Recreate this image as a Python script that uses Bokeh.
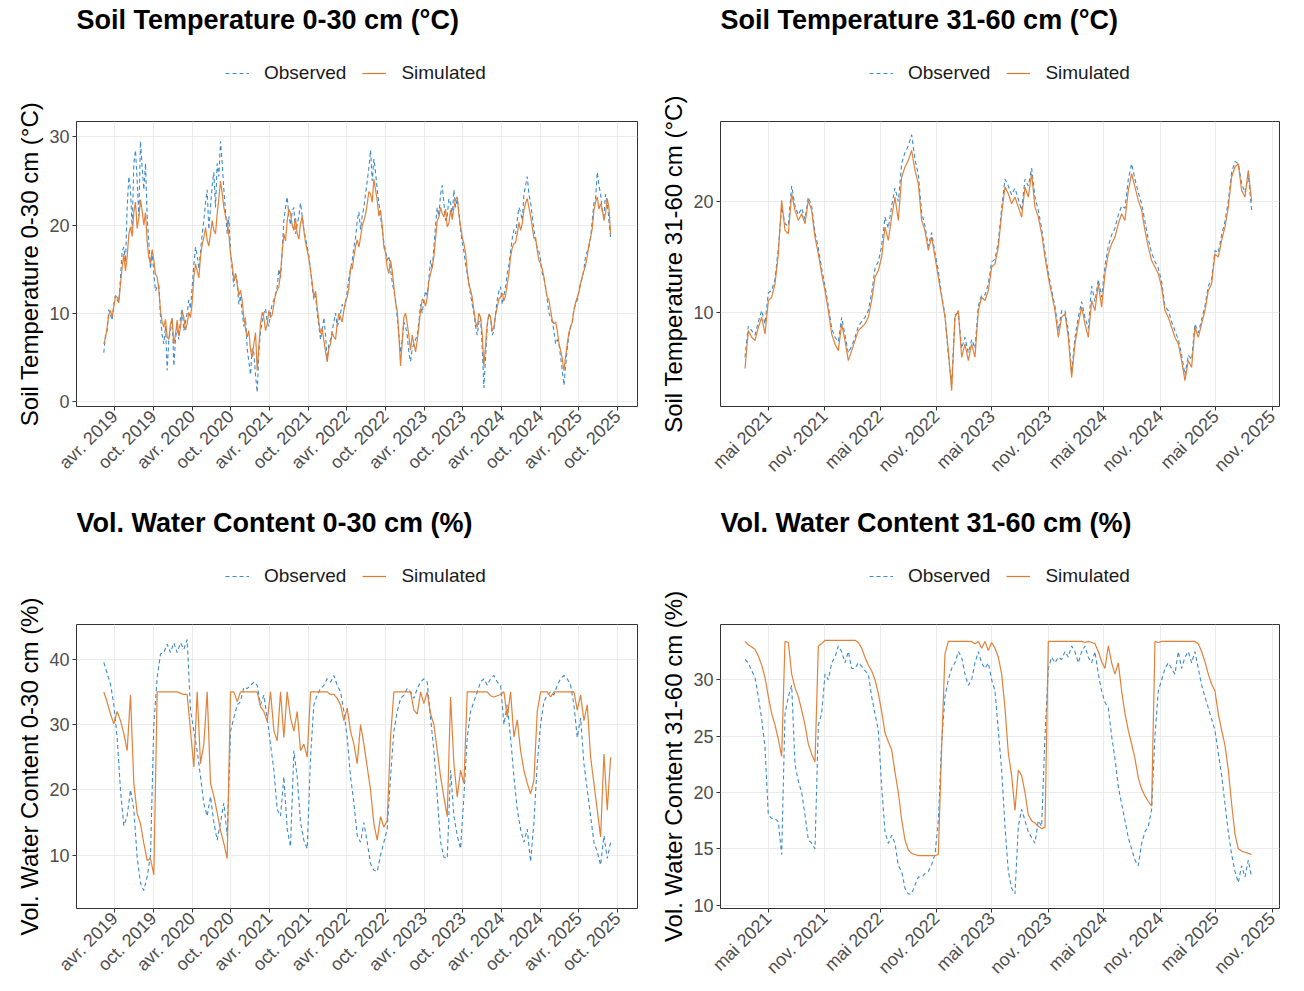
import math
import numpy as np
import pandas as pd
from bokeh.plotting import figure
from bokeh.layouts import column, row
from bokeh.models import Legend, LegendItem, FixedTicker, Range1d, Label
from bokeh.embed import file_html
from bokeh.resources import INLINE

# ---------------- data ----------------
start_030, end_030 = "2019-02-09", "2025-08-29"
start_3160, end_3160 = "2021-02-14", "2025-08-26"

# 0-30 cm temperature, about one reading every 8 days
temp030_obs = [5.5, 7.5, 8.0, 10.4, 9.8, 9.2, 11.0, 12.0, 11.5, 11.2,
               14.0, 17.0, 17.5, 15.8, 22.0, 25.5, 24.0, 19.5, 27.0, 28.5,
               25.0, 21.0, 29.5, 26.5, 24.0, 27.0, 21.0, 18.0, 15.0, 17.0,
               14.5, 12.5, 13.0, 13.2, 9.5, 7.5, 6.5, 8.5, 3.5, 7.0,
               8.0, 9.5, 4.0, 7.0, 8.5, 7.0, 9.5, 10.5, 8.0, 9.0,
               10.0, 11.5, 10.5, 13.0, 15.5, 17.5, 16.5, 15.0, 17.0, 19.0,
               20.5, 22.5, 24.0, 19.5, 22.0, 24.5, 26.0, 22.0, 27.0, 25.5,
               29.5, 27.0, 24.0, 21.5, 19.0, 21.0, 17.0, 15.0, 13.0, 14.5,
               13.5, 11.0, 12.0, 10.0, 8.5, 9.5, 6.0, 4.5, 3.0, 6.0,
               5.5, 3.0, 1.0, 5.5, 8.0, 9.0, 10.0, 10.5, 9.0, 8.5,
               10.0, 11.0, 11.5, 12.0, 13.0, 15.0, 14.0, 17.0, 20.5, 22.0,
               23.2, 21.0, 20.0, 21.5, 22.0, 19.0, 20.0, 21.0, 22.5, 21.0,
               19.5, 18.5, 17.5, 16.5, 15.0, 13.0, 11.5, 12.0, 10.0, 8.5,
               7.0, 8.0, 9.5, 7.5, 4.5, 6.5, 7.0, 8.0, 9.0, 10.0,
               8.5, 9.0, 10.0, 11.0, 10.5, 11.0, 12.5, 14.0, 15.0, 16.0,
               17.5, 18.5, 20.5, 21.5, 19.5, 21.0, 22.0, 23.5, 25.0, 26.5,
               28.5, 25.0, 27.5, 26.0, 24.0, 22.5, 21.0, 19.5, 18.0, 17.0,
               16.0, 16.5, 15.0, 13.5, 12.5, 11.5, 9.5, 7.5, 5.5, 7.0,
               9.0, 8.5, 7.5, 5.5, 4.5, 6.0, 6.5, 7.0, 7.5, 9.0,
               11.0, 10.0, 11.5, 12.5, 12.0, 14.0, 16.0, 15.0, 17.5, 20.0,
               22.0, 21.0, 23.5, 24.5, 22.5, 20.5, 21.0, 23.0, 22.5, 21.0,
               24.0, 22.0, 23.0, 21.5, 19.5, 18.0, 17.0, 15.5, 14.5, 13.5,
               12.0, 11.0, 10.0, 8.5, 7.5, 9.0, 9.5, 6.0, 1.5, 5.0,
               8.5, 10.0, 9.5, 7.5, 8.0, 10.0, 11.5, 12.5, 13.0, 11.0,
               12.0, 13.0, 14.5, 15.5, 17.0, 18.5, 19.5, 19.0, 20.5, 22.0,
               21.5, 20.5, 23.5, 24.5, 25.5, 23.5, 22.5, 21.0, 19.5, 18.0,
               17.5, 17.0, 16.0, 14.5, 14.0, 13.0, 11.5, 10.0, 9.5, 9.0,
               8.0, 6.5, 7.0, 6.5, 5.0, 3.5, 1.8, 4.0, 6.0, 7.5,
               8.5, 9.0, 10.5, 11.0, 11.5, 12.5, 13.5, 14.0, 15.0, 16.5,
               17.0, 17.5, 18.5, 20.5, 22.5, 23.0, 26.0, 24.5, 23.5, 21.5,
               21.0, 23.5, 22.5, 20.5, 18.5]
temp030_sim = [6.5, 7.2, 8.4, 9.8, 10.3, 9.6, 10.7, 11.9, 11.8, 11.2,
               13.3, 15.2, 16.7, 14.8, 16.4, 18.9, 19.8, 18.7, 21.5, 22.6,
               19.6, 20.8, 22.9, 21.6, 20.0, 21.4, 18.2, 16.3, 15.6, 17.2,
               16.0, 14.4, 14.1, 12.7, 10.3, 9.0, 8.4, 9.3, 7.3, 7.0,
               8.8, 9.4, 6.5, 7.6, 9.2, 7.4, 8.4, 10.2, 9.5, 8.1,
               8.8, 10.1, 9.5, 11.2, 14.1, 15.6, 14.8, 14.0, 16.4, 17.8,
               18.6, 19.7, 18.3, 17.6, 19.0, 20.5, 19.4, 19.0, 21.3, 23.0,
               25.0, 23.6, 22.0, 21.0, 20.5, 18.9, 16.7, 15.6, 13.7, 14.5,
               13.3, 12.0, 12.6, 11.4, 9.5, 8.2, 7.3, 8.0, 5.8, 5.0,
               6.5, 7.8, 3.5, 6.2, 8.8, 10.1, 9.5, 8.0, 8.8, 10.3,
               9.5, 9.8, 11.0, 12.2, 12.6, 13.0, 14.5, 17.0, 19.0, 18.2,
               20.5, 21.8, 21.3, 20.0, 19.4, 20.8, 19.0, 18.4, 20.2, 21.0,
               19.4, 18.0, 17.1, 16.2, 14.8, 13.5, 11.8, 12.5, 10.7, 9.0,
               7.7, 8.3, 6.9, 5.6, 4.5, 6.0, 6.5, 7.8, 7.3, 7.0,
               8.8, 10.0, 9.5, 9.0, 10.3, 11.4, 11.8, 12.9, 15.2, 15.0,
               16.4, 17.6, 18.3, 17.5, 18.6, 19.9, 20.5, 21.2, 22.4, 23.8,
               23.5, 22.6, 25.2, 24.0, 22.8, 21.0, 21.7, 19.9, 17.5, 16.8,
               15.2, 14.5, 16.0, 14.8, 13.0, 11.2, 10.3, 7.5, 4.0, 6.8,
               9.5, 10.0, 8.8, 7.4, 5.8, 7.5, 6.5, 5.6, 6.9, 8.5,
               10.3, 11.6, 11.4, 10.8, 11.8, 13.6, 14.5, 15.2, 16.4, 18.5,
               20.5, 20.9, 22.0, 21.3, 20.9, 21.8, 19.8, 20.2, 21.7, 20.6,
               22.0, 22.9, 23.2, 21.2, 19.8, 18.6, 17.9, 16.8, 14.8, 13.2,
               12.6, 11.8, 10.3, 9.0, 8.4, 10.0, 9.5, 7.6, 4.0, 6.4,
               8.8, 9.9, 9.5, 8.0, 8.4, 9.8, 10.7, 11.6, 11.8, 12.3,
               11.4, 12.0, 13.3, 14.5, 16.4, 17.4, 17.9, 18.0, 19.0, 20.3,
               19.4, 20.2, 21.7, 22.5, 23.0, 22.0, 21.0, 19.8, 18.5, 18.6,
               17.1, 16.0, 15.6, 15.0, 14.1, 12.8, 11.8, 11.5, 10.3, 9.2,
               8.8, 9.0, 8.0, 6.6, 5.8, 4.8, 3.5, 5.0, 6.5, 7.8,
               8.4, 9.0, 10.3, 11.2, 11.8, 12.4, 13.3, 14.2, 14.8, 15.4,
               16.4, 17.8, 18.6, 19.6, 21.7, 22.6, 23.2, 21.8, 22.4, 21.8,
               20.5, 21.4, 23.0, 22.0, 19.0]

temp3160_obs = [6.0, 8.8, 8.4, 8.0, 9.2, 10.2, 9.0, 11.8, 12.0, 13.0,
                15.8, 19.5, 18.0, 17.8, 21.4, 19.6, 18.8, 19.4, 18.4, 20.4,
                19.6, 17.2, 15.8, 14.0, 12.4, 10.6, 8.6, 7.8, 7.4, 9.6,
                8.0, 6.4, 7.0, 7.8, 8.8, 9.2, 9.6, 10.2, 11.8, 14.0,
                14.6, 16.0, 18.6, 17.6, 19.6, 21.2, 20.0, 23.4, 24.4, 25.0,
                26.0, 23.8, 22.4, 19.0, 17.8, 16.0, 17.2, 15.4, 13.8, 11.6,
                9.8, 6.2, 3.6, 9.8, 10.0, 6.8, 7.8, 6.4, 7.6, 6.8,
                10.6, 11.6, 11.6, 12.6, 14.6, 14.8, 16.4, 19.4, 22.0, 21.4,
                20.6, 21.2, 20.2, 19.2, 22.0, 21.4, 23.0, 20.4, 19.2, 17.6,
                15.4, 13.6, 12.0, 10.6, 8.4, 10.2, 10.2, 8.4, 4.6, 7.8,
                9.6, 11.0, 9.6, 8.6, 12.4, 11.0, 13.0, 11.4, 14.2, 16.0,
                17.0, 17.6, 18.8, 19.6, 19.4, 22.0, 23.4, 22.0, 20.8, 19.8,
                18.2, 16.6, 15.4, 14.6, 14.0, 12.8, 10.6, 10.2, 9.2, 8.4,
                7.6, 6.2, 4.4, 6.2, 5.8, 9.0, 8.2, 9.4, 10.6, 12.4,
                13.0, 15.6, 15.4, 17.0, 18.2, 20.0, 22.6, 23.6, 23.4, 21.6,
                20.8, 22.4, 19.2]
temp3160_sim = [5.0, 8.4, 7.8, 7.5, 8.7, 9.6, 8.1, 11.1, 11.4, 12.6,
                15.3, 20.1, 17.4, 17.1, 20.7, 19.2, 18.3, 18.9, 18.0, 20.1,
                19.2, 16.8, 15.3, 13.5, 12.0, 10.2, 8.1, 7.2, 6.6, 9.0,
                7.5, 5.7, 6.6, 7.5, 8.4, 8.7, 9.0, 9.6, 11.1, 13.2,
                13.8, 15.0, 17.7, 16.5, 18.6, 20.4, 18.3, 22.2, 23.1, 23.7,
                24.6, 22.8, 21.6, 18.3, 17.4, 15.6, 16.8, 15.0, 13.2, 11.4,
                9.6, 6.6, 3.0, 9.6, 10.2, 6.0, 7.2, 5.7, 7.2, 6.0,
                10.2, 11.4, 11.1, 12.0, 14.1, 14.4, 15.9, 18.9, 21.3, 20.7,
                19.8, 20.4, 19.5, 18.6, 21.3, 20.4, 22.5, 19.5, 18.6, 17.1,
                15.0, 13.2, 11.7, 10.2, 7.8, 9.6, 9.9, 7.8, 4.2, 7.2,
                9.0, 10.5, 9.0, 7.8, 11.1, 10.2, 12.6, 10.5, 13.5, 15.3,
                16.2, 16.8, 18.0, 18.9, 18.3, 21.0, 22.5, 21.3, 20.1, 19.2,
                17.4, 15.9, 14.7, 14.1, 13.5, 12.3, 10.2, 9.6, 8.7, 7.8,
                7.2, 5.7, 3.9, 5.7, 5.1, 8.7, 7.8, 9.0, 10.2, 12.0,
                12.6, 15.3, 15.0, 16.5, 17.7, 19.5, 22.2, 23.1, 23.4, 21.0,
                20.4, 22.8, 20.0]

vwc030_obs = [39.5, 37.8, 36.2, 33.0, 28.0, 20.0, 14.5, 16.0, 20.0, 17.0,
              9.7, 5.7, 4.6, 6.7, 10.0, 30.0, 37.2, 40.8, 41.0, 42.3,
              41.0, 42.5, 41.0, 42.5, 41.5, 43.0, 32.2, 29.0, 26.0, 22.0,
              17.9, 16.0, 19.0, 15.0, 12.3, 15.0, 18.0, 13.0, 29.0, 31.0,
              33.0, 33.5, 35.7, 35.5, 36.0, 36.5, 36.0, 33.0, 34.5, 31.0,
              27.0, 23.0, 17.0, 16.0, 22.0, 14.0, 11.3, 26.0, 22.0, 15.0,
              12.3, 11.0, 25.0, 33.0, 34.5, 35.5, 36.0, 37.0, 36.5, 37.5,
              36.0, 35.0, 32.0, 28.0, 22.0, 18.0, 13.0, 12.0, 15.0, 12.0,
              8.7, 7.7, 7.5, 10.0, 12.0, 14.0, 22.0, 29.0, 32.0, 34.0,
              34.5, 35.5, 35.0, 34.0, 35.5, 36.5, 37.0, 36.5, 31.0, 26.0,
              19.0, 12.0, 9.7, 9.5, 23.0, 16.0, 13.0, 11.0, 19.0, 28.0,
              32.0, 33.5, 35.0, 36.5, 37.0, 36.0, 37.0, 37.5, 36.5, 36.0,
              30.0, 33.0, 28.0, 22.0, 17.0, 14.0, 12.0, 14.0, 9.0, 15.0,
              24.0, 30.0, 33.5, 34.5, 35.0, 34.5, 36.0, 37.0, 37.5, 37.0,
              36.0, 33.0, 28.0, 31.0, 24.0, 20.0, 16.0, 12.0, 10.5, 8.5,
              13.0, 9.5, 12.0]
vwc030_sim = [35.0, 33.4, 31.6, 30.1, 32.0, 30.6, 28.6, 26.0, 34.5, 21.0,
              16.4, 14.8, 11.8, 9.2, 9.5, 7.0, 35.0, 35.0, 35.0, 35.0,
              35.0, 35.0, 35.0, 34.8, 34.6, 34.6, 29.0, 23.5, 35.0, 24.0,
              27.0, 35.0, 21.0, 19.0, 16.5, 13.8, 11.8, 9.5, 35.0, 35.0,
              33.5, 35.0, 35.0, 35.0, 35.0, 35.0, 35.0, 32.7, 32.0, 30.5,
              35.0, 29.1, 27.5, 35.0, 28.0, 35.0, 31.0, 29.0, 32.0, 26.0,
              27.0, 25.0, 35.0, 35.0, 35.0, 35.0, 35.0, 35.0, 34.6, 34.6,
              34.0, 33.0, 30.6, 32.5, 29.0, 27.0, 24.0, 30.0, 27.0, 23.5,
              20.0, 14.8, 12.3, 15.9, 14.3, 15.3, 28.1, 35.0, 35.0, 35.0,
              35.0, 35.0, 35.0, 32.2, 31.6, 35.0, 33.2, 35.0, 31.6, 30.0,
              26.0, 22.0, 18.9, 15.9, 34.2, 24.0, 18.9, 23.0, 21.0, 35.0,
              35.0, 35.0, 35.0, 35.0, 35.0, 35.0, 34.4, 34.2, 34.4, 34.6,
              35.0, 31.1, 35.0, 28.1, 30.7, 26.0, 23.0, 21.0, 19.4, 21.5,
              32.0, 35.0, 35.0, 35.0, 34.2, 35.0, 35.0, 35.0, 35.0, 35.0,
              35.0, 35.0, 32.2, 34.5, 30.6, 33.0, 25.0, 21.0, 16.9, 12.8,
              25.5, 16.9, 25.0]

vwc3160_obs = [31.8, 31.5, 30.8, 30.2, 28.5, 26.5, 24.0, 18.0, 17.7, 17.7,
               17.4, 14.5, 27.0, 28.5, 29.5, 22.5, 21.0, 20.0, 18.0, 15.8,
               15.5, 15.0, 26.0, 27.0, 30.5, 30.0, 31.5, 32.0, 33.0, 32.5,
               31.5, 32.5, 31.0, 31.0, 31.5, 31.2, 30.8, 30.5, 28.5, 27.0,
               25.5, 20.5, 16.5, 15.5, 16.2, 15.5, 13.5, 13.0, 11.5, 11.0,
               11.0, 11.8, 12.5, 12.5, 12.8, 13.0, 13.6, 14.5, 17.5, 24.5,
               28.5, 30.0, 31.0, 31.5, 32.5, 32.0, 30.5, 29.5, 30.0, 31.5,
               32.5, 31.5, 31.0, 31.5, 30.0, 29.0, 25.5, 22.0, 17.0, 13.0,
               11.5, 11.0, 17.0, 18.5, 17.5, 16.5, 16.0, 15.5, 17.5, 17.0,
               25.0, 31.0, 32.0, 31.5, 32.0, 31.8, 32.5, 32.0, 33.0, 32.5,
               31.5, 32.5, 33.0, 32.0, 31.5, 32.5, 30.5, 29.0, 28.0, 27.5,
               25.0, 23.0, 20.5, 19.0, 17.5, 16.0, 15.0, 14.0, 13.5, 15.5,
               16.5, 17.0, 18.5, 25.0, 29.0, 30.0, 31.0, 31.5, 31.0, 30.5,
               32.5, 31.0, 32.0, 32.5, 31.5, 32.5, 31.0, 29.5, 28.5, 27.5,
               26.5, 25.5, 23.5, 21.5, 19.0, 16.5, 14.5, 13.0, 12.0, 13.5,
               12.5, 14.0, 12.5]
vwc3160_sim = [33.4, 33.1, 32.9, 32.7, 32.1, 31.3, 30.2, 28.5, 27.0, 26.0,
               24.7, 23.2, 33.4, 33.3, 30.5, 29.3, 28.5, 27.3, 26.0, 24.3,
               23.4, 22.7, 33.0, 33.2, 33.5, 33.5, 33.5, 33.5, 33.5, 33.5,
               33.5, 33.5, 33.5, 33.5, 33.3, 32.8, 32.0, 31.3, 30.8, 30.0,
               28.8, 27.2, 25.3, 24.5, 23.8, 21.8, 20.0, 17.6, 15.8, 14.9,
               14.6, 14.5, 14.4, 14.4, 14.4, 14.4, 14.4, 14.4, 14.5, 24.0,
               32.3, 33.4, 33.4, 33.4, 33.4, 33.4, 33.4, 33.4, 33.4, 33.2,
               33.4, 32.8, 33.4, 32.6, 33.3, 32.8, 32.0, 30.5, 27.5, 23.5,
               21.5, 18.4, 22.0, 21.5, 20.0, 18.0, 17.5, 17.3, 17.0, 16.8,
               16.9, 33.4, 33.4, 33.4, 33.4, 33.4, 33.4, 33.4, 33.4, 33.4,
               33.4, 33.4, 33.3, 33.4, 33.3, 33.2, 32.5, 31.6, 31.0, 33.0,
               31.5, 30.5, 31.5, 29.0, 27.0, 25.5, 24.3, 23.0, 21.3, 20.3,
               19.7, 19.2, 18.8, 33.4, 33.3, 33.4, 33.4, 33.4, 33.4, 33.4,
               33.4, 33.4, 33.4, 33.4, 33.4, 33.4, 33.2, 32.5, 31.6, 30.5,
               29.6, 29.0, 27.0, 25.5, 24.2, 22.0, 19.0, 16.3, 15.0, 14.8,
               14.7, 14.6, 14.5]

left_tick_dates = ["2019-04-01", "2019-10-01", "2020-04-01", "2020-10-01", "2021-04-01",
                   "2021-10-01", "2022-04-01", "2022-10-01", "2023-04-01", "2023-10-01",
                   "2024-04-01", "2024-10-01", "2025-04-01", "2025-10-01"]
left_tick_labels = ["avr. 2019", "oct. 2019", "avr. 2020", "oct. 2020", "avr. 2021",
                    "oct. 2021", "avr. 2022", "oct. 2022", "avr. 2023", "oct. 2023",
                    "avr. 2024", "oct. 2024", "avr. 2025", "oct. 2025"]
right_tick_dates = ["2021-05-01", "2021-11-01", "2022-05-01", "2022-11-01", "2023-05-01",
                    "2023-11-01", "2024-05-01", "2024-11-01", "2025-05-01", "2025-11-01"]
right_tick_labels = ["mai 2021", "nov. 2021", "mai 2022", "nov. 2022", "mai 2023",
                     "nov. 2023", "mai 2024", "nov. 2024", "mai 2025", "nov. 2025"]

BLUE = "#3A8BCF"
ORANGE = "#E07A2E"
FONT = "Liberation Sans"
TOP_HEADER_H = 90
BOTTOM_HEADER_H = 84


def ms(d):
    return pd.Timestamp(d).value / 1e6


def xs(start, end, n):
    return pd.date_range(start, end, periods=n).asi8 / 1e6


def header(title, width, hh, mb_left, mb_right):
    h = figure(width=width, height=hh, output_backend="svg", toolbar_location=None,
               x_range=Range1d(0, 1), y_range=Range1d(0, 1),
               x_axis_location=None, y_axis_location=None,
               min_border_left=mb_left, min_border_right=mb_right,
               min_border_top=0, min_border_bottom=0)
    h.grid.visible = False
    h.outline_line_color = None
    h.background_fill_color = "white"
    h.border_fill_color = "white"
    h.add_layout(Label(x=0, y=hh - 19, x_units="screen", y_units="screen",
                       text=title, text_font=FONT, text_font_style="bold",
                       text_font_size="27px", text_color="black",
                       text_baseline="alphabetic", text_align="left"))
    # legend proxies (no visible data)
    d_obs = h.line([0, 1], [np.nan, np.nan], line_color=BLUE, line_width=1.1, line_dash="4 3")
    d_sim = h.line([0, 1], [np.nan, np.nan], line_color=ORANGE, line_width=1.2)
    legend = Legend(items=[LegendItem(label="Observed", renderers=[d_obs]),
                           LegendItem(label="Simulated", renderers=[d_sim])],
                    orientation="horizontal",
                    location=(149, hh - 84),
                    padding=0, margin=0, spacing=16, label_standoff=15,
                    glyph_width=24, glyph_height=22, label_height=22,
                    border_line_color=None, background_fill_alpha=0)
    legend.label_text_font = FONT
    legend.label_text_font_size = "19px"
    legend.label_text_color = "#1A1A1A"
    h.add_layout(legend, "center")
    return h


def panel(ylabel, x, obs, sim, xr, yr, yticks, tdates, tlabels,
          width, height, hh, mb_left, mb_right, mb_bottom):
    p = figure(width=width, height=height, output_backend="svg", toolbar_location=None,
               x_range=Range1d(ms(xr[0]), ms(xr[1])), y_range=Range1d(*yr),
               min_border_left=mb_left, min_border_right=mb_right,
               min_border_top=121 - hh, min_border_bottom=mb_bottom)

    p.line(x, obs, line_color=BLUE, line_width=1.1, line_dash="4 3")
    p.line(x, sim, line_color=ORANGE, line_width=1.2, line_alpha=0.95)

    tvals = [ms(d) for d in tdates]
    p.xaxis.ticker = FixedTicker(ticks=tvals)
    p.xaxis.major_label_overrides = {v: l for v, l in zip(tvals, tlabels)}
    p.xaxis.major_label_orientation = math.pi / 4
    p.yaxis.ticker = FixedTicker(ticks=yticks)
    p.yaxis.axis_label = ylabel

    for ax in (p.xaxis[0], p.yaxis[0]):
        ax.axis_line_color = None
        ax.major_tick_line_color = "#333333"
        ax.major_tick_out = 4
        ax.major_tick_in = 0
        ax.minor_tick_line_color = None
        ax.major_label_text_font = FONT
        ax.major_label_text_font_size = "18px"
        ax.major_label_text_color = "#4D4D4D"
        ax.major_label_standoff = 3
        ax.axis_label_text_font = FONT
        ax.axis_label_text_font_size = "24px"
        ax.axis_label_text_font_style = "normal"
        ax.axis_label_text_color = "black"
        ax.axis_label_standoff = 3

    p.grid.grid_line_color = "#EBEBEB"
    p.grid.grid_line_width = 1
    p.outline_line_color = "#333333"
    p.outline_line_width = 1
    p.background_fill_color = "white"
    p.border_fill_color = "white"
    return p


x_left_t = xs(start_030, end_030, len(temp030_obs))
x_left = xs(start_030, end_030, len(vwc030_obs))
x_right = xs(start_3160, end_3160, len(temp3160_obs))
xr_left = ("2018-10-03", "2026-01-03")
xr_right = ("2020-11-26", "2025-11-25")

TH, BH = TOP_HEADER_H, BOTTOM_HEADER_H
h1 = header("Soil Temperature 0-30 cm (°C)", 652, TH, 76, 15)
p1 = panel("Soil Temperature 0-30 cm (°C)",
           x_left_t, temp030_obs, temp030_sim, xr_left, (-0.6, 31.75), [0, 10, 20, 30],
           left_tick_dates, left_tick_labels, 652, 503 - TH, TH, 76, 15, 97)
h2 = header("Soil Temperature 31-60 cm (°C)", 650, TH, 68, 23)
p2 = panel("Soil Temperature 31-60 cm (°C)",
           x_right, temp3160_obs, temp3160_sim, xr_right, (1.58, 27.19), [10, 20],
           right_tick_dates, right_tick_labels, 650, 503 - TH, TH, 68, 23, 97)
h3 = header("Vol. Water Content 0-30 cm (%)", 652, BH, 76, 15)
p3 = panel("Vol. Water Content 0-30 cm (%)",
           x_left, vwc030_obs, vwc030_sim, xr_left, (1.85, 45.3), [10, 20, 30, 40],
           left_tick_dates, left_tick_labels, 652, 487 - BH, BH, 76, 15, 82)
h4 = header("Vol. Water Content 31-60 cm (%)", 650, BH, 68, 23)
p4 = panel("Vol. Water Content 31-60 cm (%)",
           x_right, vwc3160_obs, vwc3160_sim, xr_right, (9.71, 34.9), [10, 15, 20, 25, 30],
           right_tick_dates, right_tick_labels, 650, 487 - BH, BH, 68, 23, 82)

layout = column(row(column(h1, p1), column(h2, p2)),
                row(column(h3, p3), column(h4, p4)))
open("out.html", "w").write(file_html(layout, INLINE))
